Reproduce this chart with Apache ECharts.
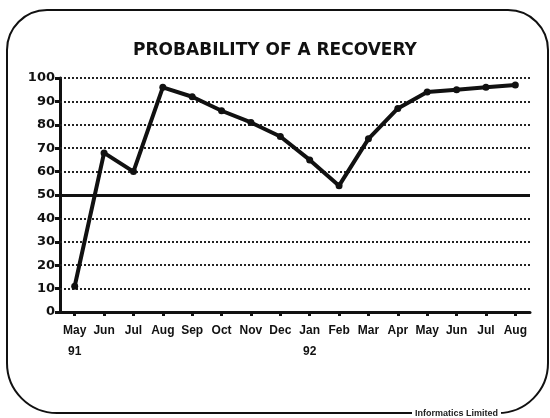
<!DOCTYPE html>
<html>
<head>
<meta charset="utf-8">
<script src="https://cdn.jsdelivr.net/npm/echarts@6/dist/echarts.min.js"></script>
<style>
  html, body { margin: 0; padding: 0; background: #fff; }
  #chart { width: 550px; height: 418px; }
</style>
</head>
<body>
<div id="chart"></div>
<script>
// months from May 91 to Aug 92
var months = ['May\n91', 'Jun', 'Jul', 'Aug', 'Sep', 'Oct', 'Nov', 'Dec',
              'Jan\n92', 'Feb', 'Mar', 'Apr', 'May', 'Jun', 'Jul', 'Aug'];
var probability = [11, 68, 60, 96, 92, 86, 81, 75, 65, 54, 74, 87, 94, 95, 96, 97];
var yTicks = [0, 10, 20, 30, 40, 50, 60, 70, 80, 90, 100];

var chart = echarts.init(document.getElementById('chart'));
var font = 'Liberation Sans';

// gridlines: solid at 50, dotted elsewhere
var gridLines = yTicks.filter(function (v) { return v > 0; }).map(function (v) {
    return {
        yAxis: v,
        lineStyle: v === 50 ? { type: 'solid', width: 3, color: '#111' }
                            : { type: [2, 2], width: 2, color: '#222' }
    };
});

var option = {
    backgroundColor: '#fff',
    animation: false,
    title: {
        text: 'PROBABILITY OF A RECOVERY',
        left: 'center',
        top: 37,
        textStyle: { fontFamily: 'DejaVu Sans', fontWeight: 'bold', fontSize: 17, color: '#111' }
    },
    grid: { left: 60, right: 20, top: 78, bottom: 106 },
    xAxis: {
        type: 'category',
        data: months,
        boundaryGap: true,
        axisLine: { lineStyle: { color: '#111', width: 3 } },
        axisTick: { show: true, alignWithLabel: true, length: 4, lineStyle: { width: 3, color: '#111' } },
        axisLabel: { interval: 0, color: '#111', fontFamily: font, fontWeight: 'bold', fontSize: 12, margin: 8, lineHeight: 21 },
        splitLine: { show: false }
    },
    yAxis: {
        type: 'value',
        min: 0,
        max: 100,
        interval: 10,
        axisLine: { show: true, lineStyle: { color: '#111', width: 3 } },
        axisTick: { show: true, length: 5, lineStyle: { width: 3, color: '#111' } },
        axisLabel: { color: '#111', fontFamily: 'DejaVu Sans', fontWeight: 'bold', fontSize: 13, margin: 5 },
        splitLine: { show: false }
    },
    series: [{
        type: 'line',
        data: probability,
        symbol: 'circle',
        symbolSize: 7,
        itemStyle: { color: '#111' },
        lineStyle: { color: '#111', width: 4 },
        z: 5,
        markLine: {
            silent: true,
            symbol: 'none',
            label: { show: false },
            data: gridLines,
            z: 1
        }
    }],
    graphic: [
        {
            type: 'rect',
            shape: { x: 7, y: 10, width: 541, height: 403, r: [40, 40, 50, 50] },
            style: { fill: 'none', stroke: '#111', lineWidth: 2 },
            z: -1
        },
        {
            type: 'text',
            x: 412,
            y: 408,
            style: {
                text: 'Informatics Limited', fill: '#222', font: 'bold 9px Liberation Sans',
                backgroundColor: '#fff', padding: [1, 3]
            }
        }
    ]
};

chart.setOption(option);
</script>
</body>
</html>
